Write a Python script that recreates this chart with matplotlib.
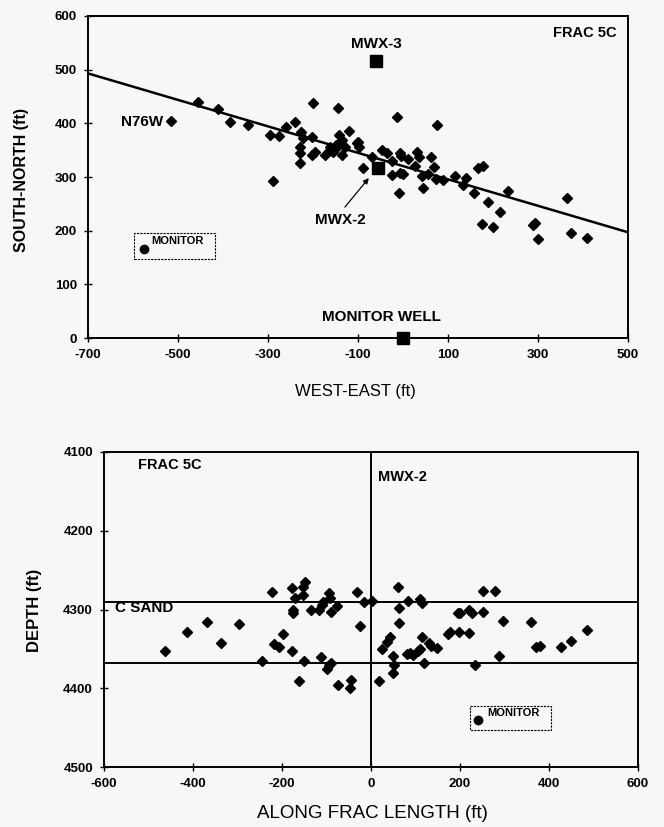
import matplotlib
matplotlib.use("Agg")
import matplotlib.pyplot as plt
from matplotlib.patches import Rectangle

plt.rcParams['font.family'] = ['Liberation Sans', 'DejaVu Sans']
plt.rcParams['axes.unicode_minus'] = False

# plan view: microseism locations (west-east, south-north), ft
plan_x = [-515, -456, -412, -385, -344, -296, -276, -261, -240, -200, -144,
          -226, -223, -202, -228, -228, -228, -202, -195, -290, -173, -162,
          -151, -143, -136, -136, -120, -155, -103, -100, -97, -14, 76, -90,
          -70, -47, -36, -24, -25, -7, -4, -7, 0, 12, -8, 26, 31, 35, 43, 45,
          56, 62, 69, 74, 89, 116, 141, 133, 157, 166, 177, 188, 216, 233,
          175, 201, 288, 293, 300, 365, 373, 408, -165, -130, -150]
plan_y = [405, 439, 427, 402, 396, 378, 377, 394, 403, 438, 429,
          383, 373, 374, 355, 345, 327, 341, 347, 293, 341, 356,
          353, 378, 369, 341, 386, 347, 363, 365, 355, 412, 397, 317,
          338, 350, 344, 329, 304, 344, 340, 307, 305, 333, 271, 321, 347, 338, 301, 279,
          305, 338, 319, 296, 294, 302, 298, 286, 271, 316, 321, 254, 235, 274,
          212, 206, 211, 214, 184, 261, 196, 186, 349, 355, 360]

# N76W fracture azimuth trend
trend_x = [-700, 500]
trend_y = [493, 197]

wells = {"MWX-3": (-60, 517), "MWX-2": (-56, 317), "MONITOR WELL": (0, 0)}
monitor_plan = (-576, 166)

# section view along the fracture: (along-frac distance, depth)
sect_x = [-463, -414, -369, -336, -297, -244, -222, -217, -207, -197, -178,
          -178, -171, -175, -175, -153, -152, -148, -162, -150, -135, -117,
          -111, -107, -94, -92, -90, -76, -112, -94, -90, -98, -74, -47, -45,
          -31, -25, -15, 2, 61, 84, 64, 110, 114, 62, 24, 35, 43, 49, 52, 49,
          18, 80, 87, 95, 106, 110, 114, 118, 130, 135, 149, 174, 178, 198,
          221, 196, 200, 220, 226, 252, 251, 279, 234, 288, 297, 359, 370,
          380, 428, 449, 485]
sect_depth = [4353, 4329, 4316, 4343, 4318, 4365, 4278, 4344, 4348, 4331, 4353,
              4273, 4286, 4301, 4305, 4282, 4271, 4265, 4391, 4365, 4300, 4301,
              4294, 4290, 4279, 4286, 4303, 4295, 4360, 4370, 4368, 4375, 4396, 4400, 4389,
              4278, 4321, 4290, 4289, 4272, 4289, 4298, 4287, 4292, 4317, 4350, 4341, 4335, 4359, 4370, 4380,
              4391, 4357, 4355, 4358, 4353, 4350, 4335, 4368, 4342, 4346, 4349, 4331, 4328, 4328,
              4330, 4304, 4304, 4300, 4304, 4303, 4276, 4277, 4370, 4359, 4314, 4316, 4348,
              4346, 4348, 4340, 4326]

sand_top = 4290
sand_base = 4368
monitor_sect = (241, 4440)

bg = '#f7f7f7'
fig = plt.figure(figsize=(6.64, 8.27), dpi=100, facecolor=bg)

label_font = dict(fontsize=11, fontweight='bold')


def style_axes(ax):
    ax.set_facecolor(bg)
    for s in ax.spines.values():
        s.set_linewidth(1.4)
    ax.tick_params(direction='inout', length=6, width=1, pad=5)
    for lab in ax.get_xticklabels() + ax.get_yticklabels():
        lab.set_fontsize(9.5)
        lab.set_fontweight('bold')


# ---- plan view ----
ax1 = fig.add_axes([88 / 664, 1 - 338 / 827, 540 / 664, 322 / 827])
ax1.set_xlim(-700, 500)
ax1.set_ylim(0, 600)
ax1.set_xticks(range(-700, 501, 200))
ax1.set_yticks(range(0, 601, 100))
style_axes(ax1)

ax1.plot(trend_x, trend_y, color='black', lw=1.8, zorder=2)
ax1.plot(plan_x, plan_y, 'D', color='black', ms=4.6, zorder=3)
for name, (wx, wy) in wells.items():
    ax1.plot(wx, wy, 's', color='black', ms=8, zorder=4, clip_on=False)
ax1.plot(*monitor_plan, 'o', color='black', ms=6, zorder=4)

ax1.text(-60, 548, "MWX-3", ha='center', va='center', **label_font)
ax1.text(-48, 39, "MONITOR WELL", ha='center', va='center', **label_font)
ax1.text(-139, 220, "MWX-2", ha='center', va='center', **label_font)
ax1.text(-580, 403, "N76W", ha='center', va='center', **label_font)
ax1.text(475, 568, "FRAC 5C", ha='right', va='center', fontsize=10.5, fontweight='bold')
ax1.annotate("", xy=(-72, 302), xytext=(-133, 240),
             arrowprops=dict(arrowstyle='-|>', color='black', lw=0.9,
                             mutation_scale=8))
ax1.add_patch(Rectangle((-598, 147), 181, 49, fill=False, lw=0.8,
                        ls=(0, (2, 1)), edgecolor='black'))
ax1.text(-559, 181, "MONITOR", ha='left', va='center', fontsize=8, fontweight='bold')

fig.text(22 / 664, 1 - 180 / 827, "SOUTH-NORTH (ft)", rotation=90,
         ha='center', va='center', fontsize=11.5, fontweight='bold')
fig.text(355 / 664, 1 - 391 / 827, "WEST-EAST (ft)", ha='center', va='center',
         fontsize=12)

# ---- section view ----
ax2 = fig.add_axes([104 / 664, 1 - 767 / 827, 534 / 664, 315 / 827])
ax2.set_xlim(-600, 600)
ax2.set_ylim(4500, 4100)
ax2.set_xticks(range(-600, 601, 200))
ax2.set_yticks(range(4100, 4501, 100))
style_axes(ax2)

ax2.axhline(sand_top, color='black', lw=1.4, zorder=2)
ax2.axhline(sand_base, color='black', lw=1.4, zorder=2)
ax2.axvline(0, color='black', lw=1.4, zorder=2)
ax2.plot(sect_x, sect_depth, 'D', color='black', ms=4.6, zorder=3)
ax2.plot(*monitor_sect, 'o', color='black', ms=6, zorder=4)

ax2.text(-524, 4117, "FRAC 5C", ha='left', va='center', fontsize=10.5, fontweight='bold')
ax2.text(16, 4132, "MWX-2", ha='left', va='center', fontsize=10.5, fontweight='bold')
ax2.text(-575, 4298, "C SAND", ha='left', va='center', fontsize=11, fontweight='bold')
ax2.add_patch(Rectangle((222, 4423), 182, 30, fill=False, lw=0.8,
                        ls=(0, (2, 1)), edgecolor='black'))
ax2.text(261, 4432, "MONITOR", ha='left', va='center', fontsize=8, fontweight='bold')

fig.text(35 / 664, 1 - 610 / 827, "DEPTH (ft)", rotation=90,
         ha='center', va='center', fontsize=12, fontweight='bold')
fig.text(372 / 664, 1 - 813 / 827, "ALONG FRAC LENGTH (ft)", ha='center',
         va='center', fontsize=13.5)

fig.savefig("out.png", dpi=100, facecolor=bg)
